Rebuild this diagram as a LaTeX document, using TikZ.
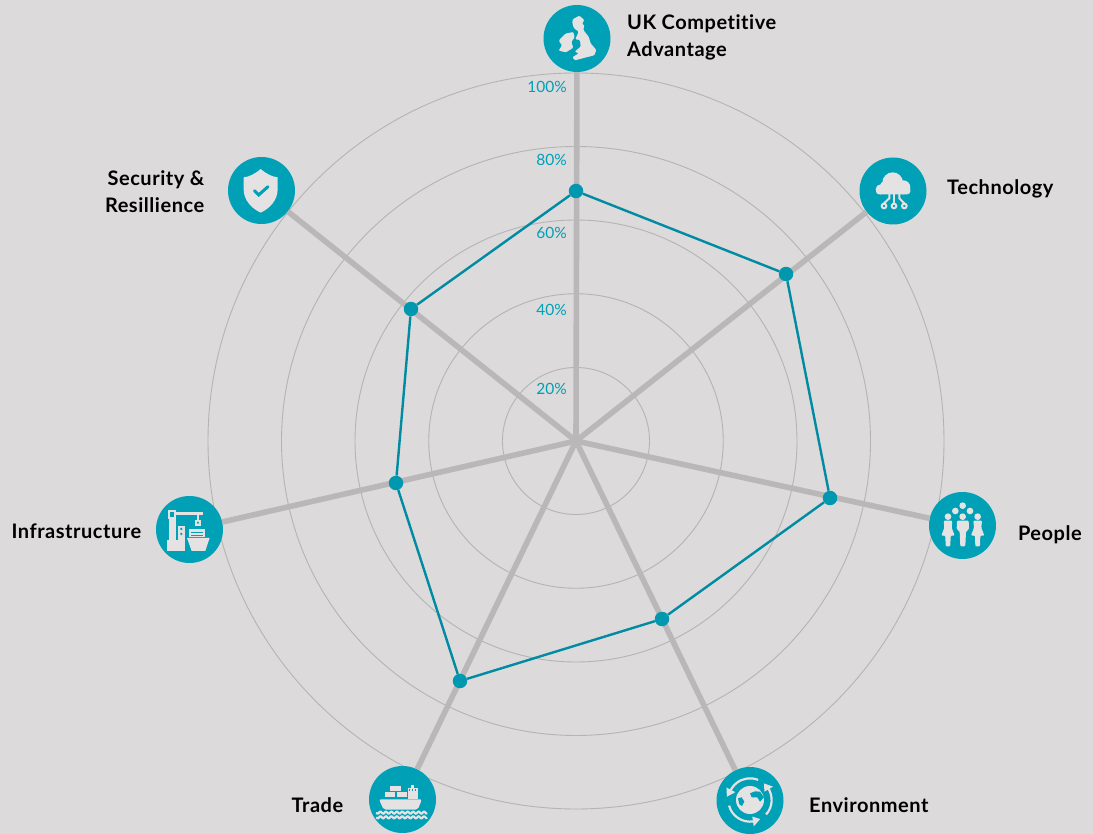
\documentclass[tikz,border=0pt]{standalone}
\usepackage{fontspec}
\setmainfont{Lato}
\definecolor{bgc}{HTML}{DCDADB}
\definecolor{icn}{HTML}{00A0B6}
\definecolor{plt}{HTML}{008BA3}
\definecolor{dot}{HTML}{0098AE}
\definecolor{spk}{HTML}{B9B7B8}
\definecolor{rng}{HTML}{B4B4B4}
\definecolor{wht}{HTML}{E4E2E3}
\tikzset{
  ringc/.style={draw=rng,line width=0.9pt,fill=none,circle,minimum size=#1,inner sep=0pt},
  spoke/.style={draw=spk,line width=5.6pt},
  dataline/.style={draw=plt,line width=2.4pt},
  datapt/.style={circle,fill=dot,minimum size=14.5pt,inner sep=0pt},
  iconc/.style={circle,fill=icn,minimum size=67pt,inner sep=0pt},
  lab/.style={font=\fontsize{20}{27}\selectfont\bfseries\addfontfeatures{LetterSpace=2.7,Ligatures=NoCommon},text=black,inner sep=0pt},
  pct/.style={font=\fontsize{15.5}{18}\selectfont,text=icn,inner sep=0pt,anchor=east},
  iw/.style={fill=wht,draw=none},
  zoomed/.style={x=0.3333pt,y=-0.3333pt}
}
\begin{document}
\begin{tikzpicture}[x=1pt,y=-1pt]
\fill[bgc] (0,0) rectangle (1093,834);
\useasboundingbox (0,0) rectangle (1093,834);
\coordinate (c) at (576,441);
\node[ringc=147pt] (r20) at (c) {};
\node[ringc=294.5pt] (r40) at (c) {};
\node[ringc=442pt] (r60) at (c) {};
\node[ringc=589pt] (r80) at (c) {};
\node[ringc=736pt] (r100) at (c) {};
% icons
\node[iconc] (uk) at (577,38.5) {};
\node[iconc] (tech) at (893,191) {};
\node[iconc] (people) at (962.5,525.5) {};
\node[iconc] (env) at (750,800.5) {};
\node[iconc] (trade) at (402.5,799.5) {};
\node[iconc] (infra) at (189.5,529.5) {};
\node[iconc] (sec) at (261.5,190.5) {};
% spokes
\foreach \n in {uk,tech,people,env,trade,infra,sec} \draw[spoke] (c) -- (\n);
% data
\node[datapt] (d1) at (576,191) {};
\node[datapt] (d2) at (786,274) {};
\node[datapt] (d3) at (830,498) {};
\node[datapt] (d4) at (662,619) {};
\node[datapt] (d5) at (460,681) {};
\node[datapt] (d6) at (396,483) {};
\node[datapt] (d7) at (411,309) {};
\draw[dataline] (d1) -- (d2) -- (d3) -- (d4) -- (d5) -- (d6) -- (d7) -- (d1);
% pct
\node[pct] (p100) at (567,87) {100\%};
\node[pct] (p80) at (567,160) {80\%};
\node[pct] (p60) at (567,233) {60\%};
\node[pct] (p40) at (567,310) {40\%};
\node[pct] (p20) at (567,389) {20\%};
% labels
\node[lab,anchor=west,align=left] (luk) at (627,37) {UK Competitive\\Advantage};
\node[lab,anchor=west] (ltech) at (947,189) {Technology};
\node[lab,anchor=east] (lpeople) at (1082,535) {People};
\node[lab,anchor=west] (lenv) at (809,805) {Environment};
\node[lab,anchor=east] (ltrade) at (343.5,805) {Trade};
\node[lab,anchor=east] (linfra) at (141.5,531) {Infrastructure};
\node[lab,anchor=east,align=right] (lsec) at (204.5,192) {Security \&\\Resillience};
% UK glyph
\begin{scope}[shift={(530,0)},zoomed]
\fill[iw,rounded corners=1pt] (128,58)--(148,47)--(163,60)--(156,72)--(163,75)--(160,90)--(176,110)--(182,130)--(199,150)--(193,166)--(165,173)--(135,181)--(127,172)--(146,160)--(134,155)--(152,140)--(150,120)--(136,118)--(146,95)--(132,85)--(127,70)--cycle;
\fill[iw,rounded corners=1pt] (86,122)--(106,101)--(130,96)--(134,112)--(124,126)--(130,143)--(108,157)--(86,152)--(96,136)--cycle;
\end{scope}
% Cloud glyph
\begin{scope}[shift={(850,150)},zoomed]
\fill[iw] (128,98) circle[radius=31];
\fill[iw] (92,118) circle[radius=15];
\fill[iw] (106,110) circle[radius=17];
\fill[iw] (160,112) circle[radius=21];
\fill[iw,rounded corners=3pt] (78,110) rectangle (181,133);
\draw[wht,line width=2pt] (132,130)--(132,160);
\draw[wht,line width=2pt] (118,130)--(118,145)--(102,160);
\draw[wht,line width=2pt] (148,130)--(148,145)--(163,160);
\foreach \x in {102,132,163}
  \draw[wht,line width=2pt,fill=icn] (\x,168) circle[radius=7];
\end{scope}
% People glyph
\begin{scope}[shift={(920,485)},zoomed]
\foreach \x/\y in {128/62,106/78,150/78,84/95,128/95,173/95}
  \fill[iw] (\x,\y) circle[radius=10];
\foreach \cx in {84,173}{
  \fill[iw,rounded corners=1pt] (\cx-13,107)--(\cx+13,107)--(\cx+11,128)--(\cx+20,152)--(\cx+8,152)--(\cx+7,184)--(\cx-7,184)--(\cx-8,152)--(\cx-20,152)--(\cx-11,128)--cycle;
}
\fill[iw,rounded corners=1pt] (111,107)--(146,107)--(147,132)--(138,140)--(136,184)--(121,184)--(119,140)--(110,132)--cycle;
\end{scope}
% Environment glyph
\begin{scope}[shift={(710,760)},zoomed]
\fill[iw] (120,120) circle[radius=42];
\fill[icn] (84,115)--(95,112)--(103,125)--(96,138)--(88,133)--cycle;
\fill[icn] (120,100)--(135,94)--(150,95)--(162,112)--(150,125)--(142,112)--(125,112)--cycle;
\begin{scope}[shift={(120,120)}]
\draw[wht,line width=2.2pt] (-68:65) arc[start angle=-68,end angle=-160,radius=65];
\fill[iw] (-172:70)--(-152:50)--(-152:80)--cycle;
\draw[wht,line width=2.2pt] (165:65) arc[start angle=165,end angle=80,radius=65];
\fill[iw] (62:65)--(82:80)--(82:50)--cycle;
\draw[wht,line width=2.2pt] (42:65) arc[start angle=42,end angle=-36,radius=65];
\fill[iw] (-50:65)--(-30:80)--(-30:50)--cycle;
\end{scope}
\end{scope}
% Ship glyph
\begin{scope}[shift={(360,760)},zoomed]
\fill[iw,rounded corners=2pt] (57,118)--(186,118)--(173,149)--(71,149)--cycle;
\fill[iw] (90,78) rectangle (122,93);
\fill[iw] (75,97) rectangle (105,112);
\fill[iw] (110,97) rectangle (140,112);
\fill[iw] (143,84) rectangle (173,118);
\fill[iw] (154,75) rectangle (162,84);
\foreach \x in {149,158,167} \fill[icn] (\x-2,86) rectangle (\x+2,93);
\foreach \y in {158,172}
  \draw[wht,line width=2.2pt,line cap=round] plot[domain=50:200,samples=70,smooth] (\x,{\y+3*sin(\x*22)});
\end{scope}
% Infrastructure glyph
\begin{scope}[shift={(150,490)},zoomed]
\fill[iw] (54,61) rectangle (79,86);
\fill[icn] (60,67) rectangle (73,80);
\fill[iw] (79,66) rectangle (160,76);
\fill[iw] (57,86) rectangle (79,150);
\fill[iw] (52,150) rectangle (106,183);
\fill[iw] (84,107) rectangle (104,150);
\fill[icn] (94,117) circle[radius=4];
\fill[icn] (94,132) circle[radius=4];
\fill[iw] (142,76) rectangle (147,90);
\fill[iw] (136,90) rectangle (152,108);
\fill[icn] (144,98) circle[radius=3.5];
\fill[iw] (118,117) rectangle (166,142);
\fill[icn] (124,125) rectangle (160,128);
\fill[icn] (124,134) rectangle (160,136);
\fill[iw] (111,144)--(179,144)--(166,183)--(125,183)--cycle;
\end{scope}
% Shield glyph
\begin{scope}[shift={(220,150)},zoomed]
\fill[iw] (122,57) .. controls (140,72) and (155,80) .. (173,82)
  -- (173,118) .. controls (173,150) and (150,175) .. (122,188)
  .. controls (94,175) and (71,150) .. (71,118) -- (71,82)
  .. controls (89,80) and (104,72) .. (122,57) -- cycle;
\draw[icn,line width=3pt,line cap=round] (103,122)--(116,135)--(144,110);
\end{scope}
\end{tikzpicture}
\end{document}
